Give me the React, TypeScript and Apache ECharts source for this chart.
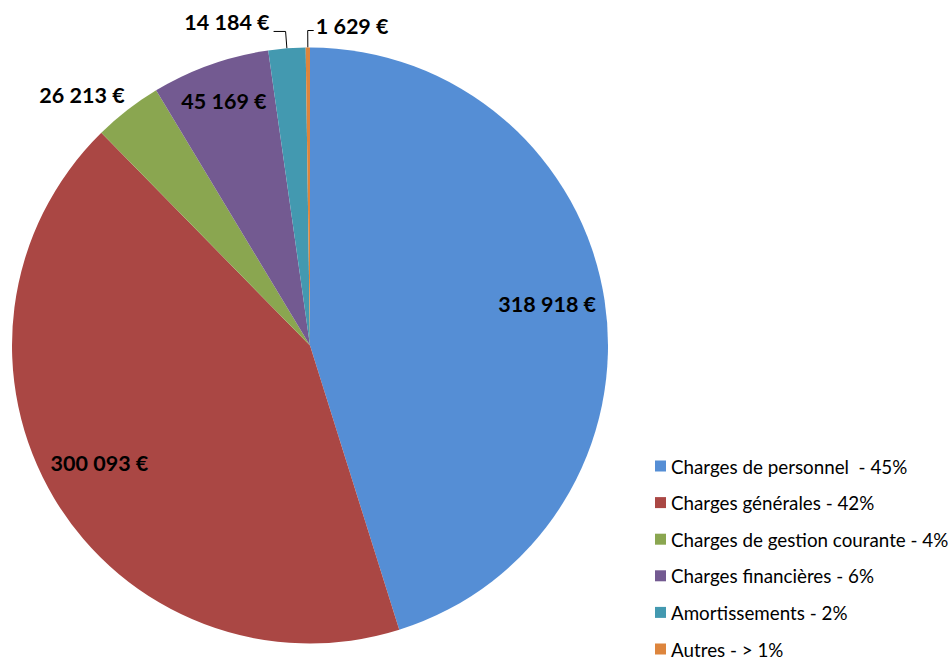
import React, { useEffect, useRef } from "react";
import * as echarts from "echarts";

const categories = [
  "Charges de personnel  - 45%",
  "Charges générales - 42%",
  "Charges de gestion courante - 4%",
  "Charges financières - 6%",
  "Amortissements - 2%",
  "Autres - > 1%",
];
const values = [318918, 300093, 26213, 45169, 14184, 1629];
const colors = ["#558ED5", "#AA4744", "#8AA650", "#735A91", "#4399B0", "#DD853D"];
const insideLabel = [true, true, false, true, false, false];

const fmt = (v: number) => String(v).replace(/\B(?=(\d{3})+(?!\d))/g, " ") + " €";

const labelFont = {
  fontFamily: "Lato",
  fontWeight: "bold" as const,
  fontSize: 21.5,
  color: "#000",
};

export default function App() {
  const ref = useRef<HTMLDivElement>(null);
  useEffect(() => {
    if (!ref.current) return;
    const chart = echarts.init(ref.current, null, { renderer: "svg" });
    const mainData = categories.map((name, i) => ({
      name,
      value: values[i],
      itemStyle: { color: colors[i] },
      label: { show: !insideLabel[i] },
      labelLine: i === 2 ? { show: false, length: 3, length2: 0 } : { show: !insideLabel[i] },
    }));
    const overlayData = categories.map((name, i) => ({
      name,
      value: values[i],
      itemStyle: { color: "rgba(0,0,0,0)" },
      label: { show: insideLabel[i] },
    }));
    chart.setOption({
      animation: false,
      legend: {
        orient: "vertical",
        left: 655,
        top: 456.5,
        height: 240,
        padding: 0,
        icon: "rect",
        itemWidth: 11,
        itemHeight: 11,
        itemGap: 17.6,
        selectedMode: false,
        data: categories,
        textStyle: { fontFamily: "Lato", fontSize: 18.8, color: "#000" },
      },
      series: [
        {
          type: "pie",
          center: [310, 345.5],
          radius: [0, 298],
          startAngle: 90,
          clockwise: true,
          silent: true,
          avoidLabelOverlap: false,
          data: mainData,
          itemStyle: { borderWidth: 0 },
          label: { position: "outside", formatter: (p: any) => fmt(p.value), ...labelFont },
          labelLine: { length: 17, length2: 12, lineStyle: { color: "#000", width: 1 } },
          labelLayout: (p: any) => {
            const pts = p.labelLinePoints;
            if (!pts) return {};
            if (p.dataIndex === 2) {
              const c = pts[2];
              return { x: c[0] - 1, y: c[1] - 13, align: "right", verticalAlign: "middle" };
            }
            if (p.dataIndex === 4) {
              const c = pts[2];
              return {
                x: c[0] - 4,
                y: c[1] - 9,
                align: "right",
                verticalAlign: "middle",
                labelLinePoints: [pts[0], pts[1], c],
              };
            }
            if (p.dataIndex === 5) {
              const a = pts[0];
              const b = pts[1];
              const c = [b[0] + 6, b[1]];
              return {
                x: c[0] + 2,
                y: b[1] - 5,
                align: "left",
                verticalAlign: "middle",
                labelLinePoints: [a, b, c],
              };
            }
            return {};
          },
        },
        {
          type: "pie",
          center: [310, 345.5],
          radius: [180, 298],
          startAngle: 90,
          clockwise: true,
          silent: true,
          avoidLabelOverlap: false,
          data: overlayData,
          itemStyle: { borderWidth: 0 },
          label: { position: "inside", formatter: (p: any) => fmt(p.value), ...labelFont },
          labelLine: { show: false },
          labelLayout: (p: any) => {
            if (p.dataIndex === 0) return { dx: -2, dy: -5 };
            if (p.dataIndex === 1) return { dx: -3, dy: -7 };
            if (p.dataIndex === 3) return { dx: -5, dy: -16 };
            return {};
          },
        },
      ],
    });
    return () => chart.dispose();
  }, []);
  return (
    <div
      ref={ref}
      style={{ position: "fixed", left: 0, top: 0, width: 950, height: 658, background: "#fff" }}
    />
  );
}
